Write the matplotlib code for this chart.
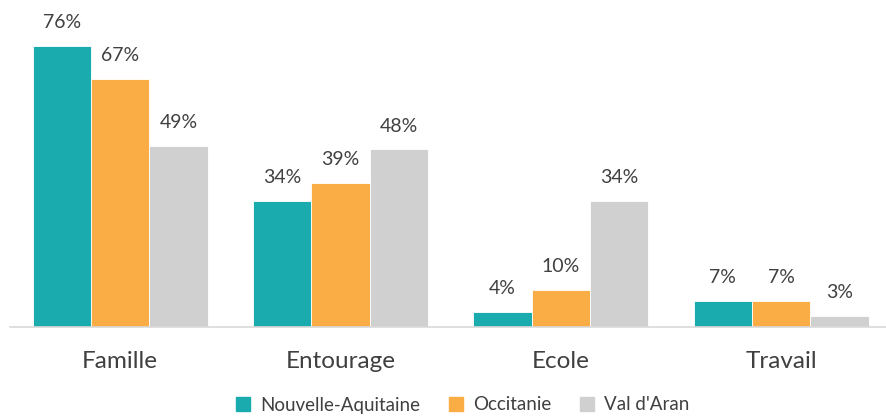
import matplotlib.pyplot as plt
import numpy as np
from matplotlib.lines import Line2D

categories = ['Famille', 'Entourage', 'Ecole', 'Travail']
series = ['Nouvelle-Aquitaine', 'Occitanie', "Val d'Aran"]
nouvelle_aquitaine = [76, 34, 4, 7]
occitanie = [67, 39, 10, 7]
val_d_aran = [49, 48, 34, 3]
colors = ['#1AABAE', '#FBAD45', '#D0D0D0']

plt.rcParams['font.family'] = ['Lato', 'DejaVu Sans']
text_color = '#404040'

fig = plt.figure(figsize=(8.87, 4.17), dpi=100)
ax = fig.add_axes([10 / 887, 90 / 417, 877 / 887, 327 / 417])

x = np.arange(len(categories))
w = 0.265
for i, (vals, col) in enumerate(zip([nouvelle_aquitaine, occitanie, val_d_aran], colors)):
    pos = x + (i - 1) * w
    ax.bar(pos, vals, width=w, color=col, edgecolor='white', linewidth=0.6)
    for px, v in zip(pos, vals):
        ax.text(px, v + 4, f'{v}%', ha='center', va='bottom', fontsize=14, color=text_color)

ax.set_xlim(-0.5, 3.48)
ax.set_ylim(0, 88.4)
ax.set_yticks([])
ax.set_xticks(x)
ax.set_xticklabels(categories, fontsize=17.5, color=text_color)
ax.tick_params(axis='x', length=0, pad=17)
for s in ['top', 'right', 'left']:
    ax.spines[s].set_visible(False)
ax.spines['bottom'].set_color('#D9D9D9')
ax.spines['bottom'].set_linewidth(1.2)

handles = [Line2D([], [], marker='s', linestyle='none', markersize=10, color=c) for c in colors]
fig.legend(handles, series, loc='center', bbox_to_anchor=(0.515, 12 / 417), ncol=3, frameon=False,
           fontsize=13.5, handletextpad=-0.1, columnspacing=0.9, labelcolor=text_color,
           borderpad=0.1)

fig.savefig('out.png', dpi=100)
